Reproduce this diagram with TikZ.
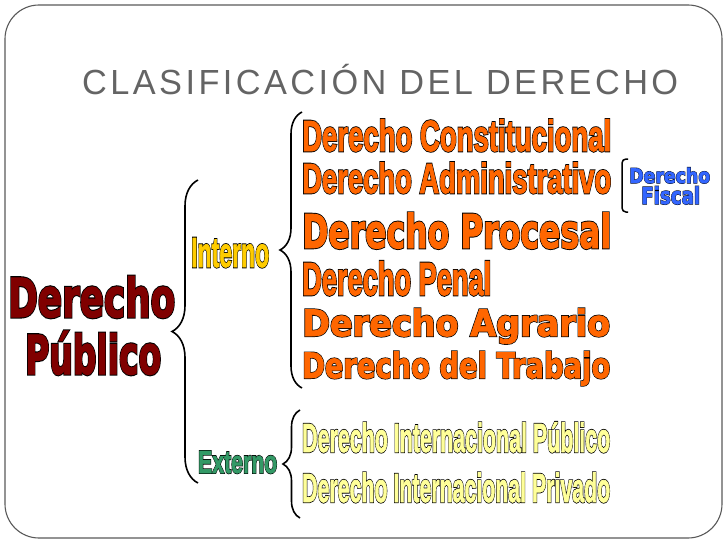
\documentclass[tikz,border=0pt]{standalone}
\usepackage{fontspec}
\setmainfont{Liberation Sans}
\newfontfamily\titlefont[LetterSpace=10]{Liberation Sans}
% capa negra (contorno) y capa de color, estrecha (L) y ancha (D)
\newfontfamily\negL[FakeBold=6]{Liberation Sans Bold}
\newfontfamily\colL[FakeBold=2]{Liberation Sans Bold}
\newfontfamily\negD[FakeBold=6]{DejaVu Sans Bold}
\newfontfamily\colD[FakeBold=2]{DejaVu Sans Bold}
\usetikzlibrary{decorations.pathreplacing}

\definecolor{titlegray}{HTML}{646464}
\definecolor{naranja}{HTML}{FF6600}
\definecolor{granate}{HTML}{800000}
\definecolor{dorado}{HTML}{FFCC00}
\definecolor{verde}{HTML}{339966}
\definecolor{amarillo}{HTML}{FFFF99}
\definecolor{azul}{HTML}{3366FF}

% texto tipo wordart: [fuente] color, ancho, altura de mayusculas, texto
\newcommand{\wa}[5][L]{\resizebox{#3}{#4}{\vphantom{D}\smash{%
  \rlap{\csname neg#1\endcsname\color{black}#5}{\csname col#1\endcsname\color{#2}#5}}}}

\tikzset{
  lbl/.style={inner sep=0pt, anchor=base west},
  llave/.style={decorate, decoration={brace, amplitude=#1}, line width=1.6pt},
}

\begin{document}
\begin{tikzpicture}[x=1pt,y=1pt]
    \useasboundingbox (0,0) rectangle (728,-546);
    % marco de la diapositiva
    \draw[gray!70!black, line width=1.1pt, rounded corners=34pt] (5,-5) rectangle (722,-538);
    % titulo
    \node[lbl] (titulo) at (82,-94) {\color{titlegray}\resizebox{596pt}{24pt}{\titlefont\vphantom{D}\smash{CLASIFICACIÓN DEL DERECHO}}};
    % derecho publico
    \node[lbl] (der) at (8,-317) {\wa[D]{granate}{167pt}{37pt}{Derecho}};
    \node[lbl] (pub) at (25,-374) {\wa[D]{granate}{136pt}{37pt}{Público}};
    % interno y externo
    \node[lbl] (int) at (191,-267) {\wa{dorado}{78pt}{29pt}{Interno}};
    \node[lbl] (ext) at (198,-473) {\wa{verde}{79pt}{22pt}{Externo}};
    % ramas del derecho interno
    \node[lbl] (const) at (302,-151) {\wa{naranja}{309pt}{30pt}{Derecho Constitucional}};
    \node[lbl] (admin) at (302,-193) {\wa{naranja}{309pt}{29pt}{Derecho Administrativo}};
    \node[lbl] (proc)  at (302,-248) {\wa[D]{naranja}{309pt}{32pt}{Derecho Procesal}};
    \node[lbl] (penal) at (302,-295) {\wa{naranja}{189pt}{32pt}{Derecho Penal}};
    \node[lbl] (agra)  at (302,-336) {\wa[D]{naranja}{308pt}{25pt}{Derecho Agrario}};
    \node[lbl] (trab)  at (302,-378) {\wa[D]{naranja}{308pt}{24pt}{Derecho del Trabajo}};
    % ramas del derecho externo
    \node[lbl] (dip) at (302,-452) {\wa{amarillo}{308pt}{28pt}{Derecho Internacional Público}};
    \node[lbl] (dpr) at (302,-502) {\wa{amarillo}{308pt}{28pt}{Derecho Internacional Privado}};
    % derecho fiscal
    \node[lbl] (fis1) at (629,-183) {\wa[D]{azul}{81pt}{14pt}{Derecho}};
    \node[lbl] (fis2) at (641,-204) {\wa[D]{azul}{59pt}{16pt}{Fiscal}};
    % llaves
    \coordinate (m1) at (198,-483); \coordinate (m2) at (198,-180);
    \coordinate (i1) at (302,-388); \coordinate (i2) at (302,-112);
    \coordinate (e1) at (300,-518); \coordinate (e2) at (300,-410);
    \coordinate (f1) at (628,-159); \coordinate (f2) at (628,-212);
    \draw[llave=26pt] (m1) -- (m2);
    \draw[llave=22pt] (i1) -- (i2);
    \draw[llave=17pt] (e1) -- (e2);
    \draw[line width=1.5pt, rounded corners=4pt] (f1) -- ++(-6,0) |- (f2);
\end{tikzpicture}
\end{document}
